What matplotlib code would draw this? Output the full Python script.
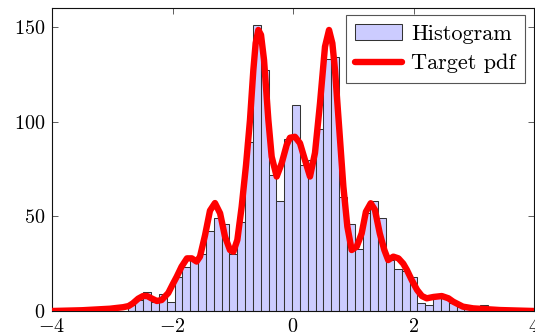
import matplotlib
matplotlib.use("Agg")
import matplotlib.pyplot as plt
import numpy as np

# Histogram data (bin left edges follow from start + width)
bin_start = -2.745
bin_width = 0.13
counts = [3, 6, 10, 5, 9, 5, 18, 23, 27, 30,
          42, 49, 46, 30, 47, 89, 151, 127, 72, 58,
          91, 109, 77, 80, 96, 133, 134, 60, 46, 33,
          52, 58, 49, 27, 22, 21, 18, 4, 3, 9,
          8, 4, 2, 1, 0, 3]

# Target pdf curve (scaled)
pdf_x = [-4.0, -3.5, -3.04, -2.82, -2.73, -2.66, -2.57, -2.49, -2.42, -2.35,
         -2.26, -2.18, -2.07, -2.0, -1.93, -1.85, -1.76, -1.68, -1.60, -1.544,
         -1.46, -1.378, -1.295, -1.21, -1.129, -1.046, -0.99, -0.924, -0.852, -0.78,
         -0.714, -0.658, -0.62, -0.575, -0.531, -0.481, -0.409, -0.354, -0.271, -0.188,
         -0.105, -0.05, 0.033, 0.116, 0.199, 0.282, 0.365, 0.448, 0.531, 0.598,
         0.653, 0.697, 0.769, 0.836, 0.902, 0.974, 1.057, 1.14, 1.21, 1.29,
         1.36, 1.44, 1.516, 1.58, 1.665, 1.75, 1.83, 1.89, 1.97, 2.06,
         2.14, 2.22, 2.33, 2.47, 2.58, 2.66, 2.82, 2.99, 3.44, 4.0]
pdf_y = [0.0, 0.4, 1.2, 2.0, 2.6, 4.0, 6.5, 7.9, 7.9, 6.7,
         5.3, 5.8, 9.5, 13.9, 18.1, 23.4, 27.8, 27.8, 26.1, 28.7,
         40.0, 53.0, 57.0, 51.6, 39.3, 32.2, 31.3, 37.5, 55.1, 77.0,
         100.9, 127.3, 141.4, 148.4, 145.8, 132.6, 100.9, 81.5, 71.0, 78.0,
         87.7, 91.5, 92.0, 88.6, 79.7, 71.0, 83.5, 109.7, 139.6, 148.4,
         141.4, 127.3, 95.6, 65.7, 44.6, 32.2, 34.0, 41.0, 52.4, 56.9,
         53.4, 41.0, 32.2, 26.9, 28.7, 27.8, 25.0, 21.7, 16.4, 11.1,
         7.9, 6.7, 7.4, 7.9, 6.7, 4.9, 2.3, 1.4, 0.5, 0.0]

x_ticks = [-4, -2, 0, 2, 4]
y_ticks = [0, 50, 100, 150]

plt.rcParams['font.family'] = 'cmr10'
plt.rcParams['mathtext.fontset'] = 'cm'
plt.rcParams['axes.formatter.use_mathtext'] = True
plt.rcParams['axes.unicode_minus'] = True

fig = plt.figure(figsize=(5.35, 3.35), dpi=100)
ax = fig.add_axes([52/535, 24/335, 482/535, 303/335])

lefts = [bin_start + i * bin_width for i in range(len(counts))]
bars = ax.bar(lefts, counts, width=bin_width, align='edge', color='#ccccff',
              edgecolor='#333333', linewidth=0.75, label='Histogram', zorder=2)
line, = ax.plot(pdf_x, pdf_y, color='#ff0000', linewidth=4.6, solid_joinstyle='round',
                solid_capstyle='round', label='Target pdf', zorder=3)

ax.set_xlim(-4, 4)
ax.set_ylim(0, 160)
ax.set_xticks(x_ticks)
ax.set_yticks(y_ticks)
ax.tick_params(direction='in', length=4, width=0.6, color='#444444',
               top=True, right=True, labelsize=14.5, pad=5)
for s in ax.spines.values():
    s.set_linewidth(0.8)
    s.set_color('#111111')

leg = ax.legend([bars, line], ['Histogram', 'Target pdf'],
                loc='upper right', bbox_to_anchor=(1 - 9/482, 1 - 7/303),
                borderaxespad=0, fancybox=False, fontsize=16,
                handlelength=2.1, handleheight=0.7, handletextpad=0.42,
                labelspacing=0.45, borderpad=0.42, framealpha=1)
leg.get_frame().set_edgecolor('#555555')
leg.get_frame().set_linewidth(0.8)

fig.savefig('out.png', dpi=100)
